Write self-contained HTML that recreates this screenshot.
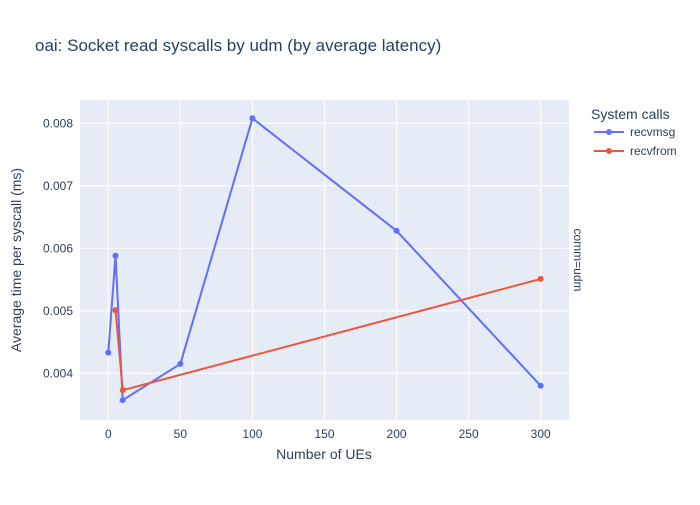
<!DOCTYPE html>
<html><head><meta charset="utf-8"><style>
body{margin:0;background:#fff;font-family:"Liberation Sans",Arial,sans-serif;}
text{font-family:"Liberation Sans",Arial,sans-serif;}
</style></head><body>
<svg id="chart" width="700" height="500" xmlns="http://www.w3.org/2000/svg">
<rect width="700" height="500" fill="#fff"/>
<text x="35" y="51" font-size="17" fill="#2a3f5f">oai: Socket read syscalls by udm (by average latency)</text>
<rect x="80" y="100" width="489" height="320" fill="#e5ecf6"/>
<g id="grid"></g><g id="series"></g><g id="ticks"></g>
<text x="324" y="459" font-size="14" fill="#2a3f5f" text-anchor="middle">Number of UEs</text>
<text transform="translate(21,260) rotate(-90)" font-size="14" fill="#2a3f5f" text-anchor="middle">Average time per syscall (ms)</text>
<text transform="translate(574,260) rotate(90)" font-size="12" fill="#2a3f5f" text-anchor="middle">comm=udm</text>
<text x="591" y="119" font-size="14" fill="#2a3f5f">System calls</text>
<g><line x1="594" y1="132" x2="624" y2="132" stroke="#636efa" stroke-width="2"/><circle cx="609" cy="132" r="3" fill="#636efa"/><text x="630" y="136" font-size="12" fill="#2a3f5f">recvmsg</text></g>
<g><line x1="594" y1="151" x2="624" y2="151" stroke="#ef553b" stroke-width="2"/><circle cx="609" cy="151" r="3" fill="#ef553b"/><text x="630" y="155" font-size="12" fill="#2a3f5f">recvfrom</text></g>
</svg>
<script>
const xTicks=[0,50,100,150,200,250,300];
const yTicks=[0.004,0.005,0.006,0.007,0.008];
const yTickLabels=["0.004","0.005","0.006","0.007","0.008"];
const recvmsgX=[0,5,10,50,100,200,300];
const recvmsgY=[0.00433,0.00588,0.00357,0.00415,0.00808,0.00628,0.0038];
const recvfromX=[5,10,300];
const recvfromY=[0.00501,0.00373,0.00551];
const NS="http://www.w3.org/2000/svg";
function xs(v){return 108.3+v*1.4413;}
function ys(v){return 373.3-(v-0.004)*62500;}
function mk(tag,attrs,parent){const e=document.createElementNS(NS,tag);for(const k in attrs)e.setAttribute(k,attrs[k]);parent.appendChild(e);return e;}
const grid=document.getElementById('grid'),ticks=document.getElementById('ticks'),series=document.getElementById('series');
xTicks.forEach(t=>{
 const l=mk('line',{x1:xs(t),x2:xs(t),y1:100,y2:420,stroke:'#fff','stroke-width':1},grid);
 
 
 const tx=mk('text',{x:xs(t),y:438,'font-size':12,fill:'#2a3f5f','text-anchor':'middle'},ticks);
 tx.textContent=t;
 
 
});
yTicks.forEach((t,i)=>{
 const l=mk('line',{x1:80,x2:569,y1:ys(t),y2:ys(t),stroke:'#fff','stroke-width':1},grid);
 
 
 const tx=mk('text',{x:73,y:ys(t)+4,'font-size':12,fill:'#2a3f5f','text-anchor':'end'},ticks);
 tx.textContent=yTickLabels[i];
 
 
});
function draw(X,Y,color,name){
 const pts=X.map((x,i)=>xs(x)+','+ys(Y[i])).join(' ');
 const pl=mk('polyline',{points:pts,fill:'none',stroke:color,'stroke-width':2,'stroke-linejoin':'round'},series);
 
 
 X.forEach((x,i)=>{
  const c=mk('circle',{cx:xs(x),cy:ys(Y[i]),r:3,fill:color},series);
  
  
 });
}
draw(recvmsgX,recvmsgY,'#636efa','recvmsg');
draw(recvfromX,recvfromY,'#ef553b','recvfrom');
</script>
</body></html>
